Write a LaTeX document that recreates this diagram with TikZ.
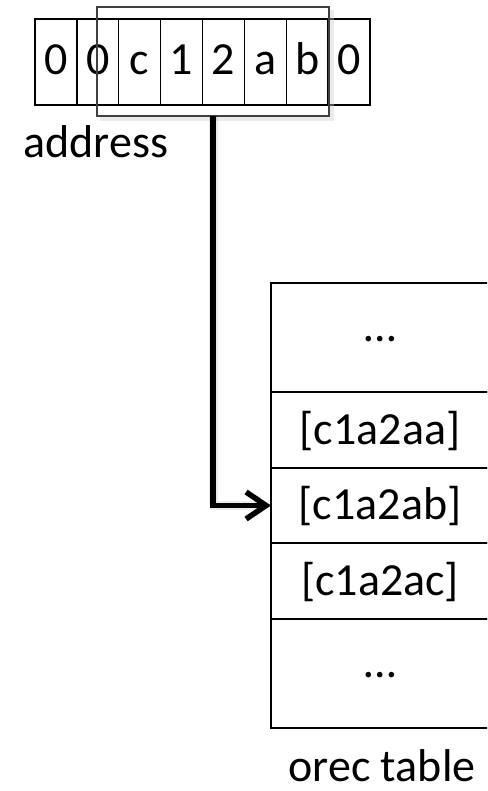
\documentclass[tikz,border=0pt]{standalone}
\usepackage{fontspec}
\setmainfont{Carlito}
\usetikzlibrary{arrows.meta}
\begin{document}
\begin{tikzpicture}[x=1pt,y=-1pt,
  every node/.style={font=\fontsize{46}{50}\selectfont},
  digitcell/.style={draw,line width=1.3pt,minimum width=41.875pt,minimum height=86pt,
    inner sep=0pt,outer sep=0pt,text height=32pt,text depth=6pt},
  tablerow/.style={draw,line width=1.6pt,minimum width=218pt,inner sep=0pt,outer sep=0pt,
    text height=34pt,text depth=6pt},
  dotsrow/.style={tablerow,text height=7pt,text depth=0pt},
  caption/.style={anchor=base,inner sep=0pt},
  softshadow/.style={line width=9pt,black,opacity=0.08,line join=round},
  pointer/.style={line width=5.5pt,black,-{Straight Barb[length=20pt,width=27pt]}}
]
\useasboundingbox (0,0) rectangle (487,791);
\clip (0,0) rectangle (487,791);

% address digits
\foreach \d [count=\i] in {0,0,c,1,2,a,b,0}
  \node[digitcell] (c\i) at ({35+41.875*(\i-0.5)},62) {\d};

% window over the digits used as the table index
\draw[black!20,line width=4pt,opacity=0.4] (100,119) -- (332,119) -- (332,10);
\node[draw=black!75,line width=2pt,minimum width=232pt,minimum height=109pt,
  inner sep=0pt,outer sep=0pt] (hl) at (213,61.5) {};

\node[caption] (addr) at (96,158) {address};

% orec table
\node[dotsrow,minimum height=109pt] (r1) at (380,337.5) {…};
\node[tablerow,minimum height=76pt] (r2) at (380,430) {[c1a2aa]};
\node[tablerow,minimum height=75pt] (r3) at (380,505.5) {[c1a2ab]};
\node[tablerow,minimum height=76pt] (r4) at (380,581) {[c1a2ac]};
\node[dotsrow,minimum height=109pt] (r5) at (380,673.5) {…};

\node[caption] (tbl) at (382,781) {orec table};

% pointer from the index window into the table
\draw[softshadow,xshift=2pt,yshift=-3pt] (hl.south) |- ([xshift=-8pt]r3.west);
\draw[pointer] (hl.south) |- (r3.west);
\end{tikzpicture}
\end{document}
